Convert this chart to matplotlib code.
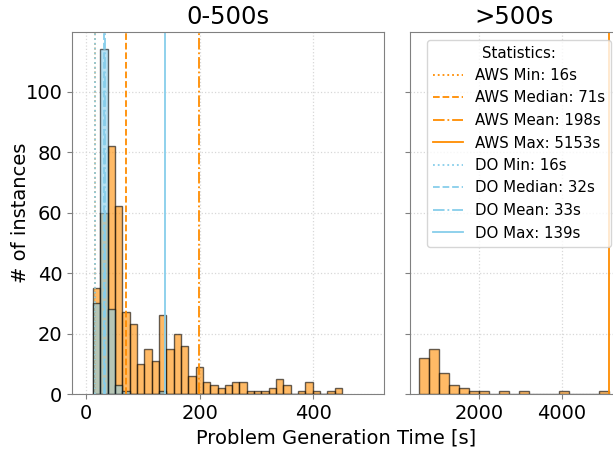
import numpy as np
import matplotlib
matplotlib.use("Agg")
import matplotlib.pyplot as plt

# histogram counts
# left panel: 34 shared bins between ~12s and ~451s
low_edges = np.linspace(12, 451, 35)
aws_low = [35, 60, 82, 62, 27, 23, 10, 15, 11, 26, 15, 20, 16, 6, 9, 4, 3,
           2, 3, 4, 4, 1, 1, 1, 2, 5, 3, 0, 1, 4, 1, 0, 1, 2]
do_low = [30, 114, 28, 3, 1, 0, 0, 0, 0, 1, 0, 0, 0, 0, 0, 0, 0,
          0, 0, 0, 0, 0, 0, 0, 0, 0, 0, 0, 0, 0, 0, 0, 0, 0]
# right panel: 19 bins between ~544s and 5153s
high_edges = np.linspace(544, 5153, 20)
aws_high = [12, 15, 7, 3, 2, 1, 1, 0, 1, 0, 1, 0, 0, 0, 1, 0, 0, 0, 1]

stat_names = ["Min", "Median", "Mean", "Max"]
stat_styles = [":", "--", "-.", "-"]
aws_stats = [16, 71, 198, 5153]
do_stats = [16, 32, 33, 139]

aws_color = "darkorange"
do_color = "skyblue"

plt.rcParams["font.size"] = 14
plt.rcParams["axes.edgecolor"] = "#808080"
plt.rcParams["xtick.color"] = "#808080"
plt.rcParams["ytick.color"] = "#808080"
plt.rcParams["xtick.labelcolor"] = "black"
plt.rcParams["ytick.labelcolor"] = "black"

fig = plt.figure(figsize=(6.13, 4.5), dpi=100)
ax1 = fig.add_axes([72 / 613, 56 / 450, 312 / 613, 362 / 450])
ax2 = fig.add_axes([409.8 / 613, 56 / 450, 209 / 613, 362 / 450], sharey=ax1)


def draw_hist(ax, edges, counts, color):
    centers = (edges[:-1] + edges[1:]) / 2
    ax.hist(centers, bins=edges, weights=counts, color=color, alpha=0.6,
            edgecolor="black", linewidth=1)


draw_hist(ax1, low_edges, aws_low, aws_color)
draw_hist(ax1, low_edges, do_low, do_color)
draw_hist(ax2, high_edges, aws_high, aws_color)

for ax in (ax1, ax2):
    for name, ls, v in zip(stat_names, stat_styles, aws_stats):
        ax.axvline(v, color=aws_color, linestyle=ls, linewidth=1.3,
                   label=f"AWS {name}: {v}s")
    for name, ls, v in zip(stat_names, stat_styles, do_stats):
        ax.axvline(v, color=do_color, linestyle=ls, linewidth=1.3,
                   label=f"DO {name}: {v}s")
    ax.grid(True, linestyle=":", color="#d8d8d8", linewidth=0.9)
    ax.set_axisbelow(True)

ax1.set_xlim(-25, 525)
ax2.set_xlim(314, 5383)
ax1.set_ylim(0, 119.7)
ax1.set_xticks([0, 200, 400])
ax2.set_xticks([2000, 4000])
ax2.tick_params(labelleft=False)

ax1.set_title("0-500s", fontsize=17.5)
ax2.set_title(">500s", fontsize=17.5)
ax1.set_ylabel("# of instances")
ax1.yaxis.set_label_coords(-0.135, 0.5)
fig.text(0.548, 0.027, "Problem Generation Time [s]", ha="center", va="center")

ax2.legend(title="Statistics:", loc="upper right", fontsize=10.8,
           title_fontsize=10.8, framealpha=0.8)

fig.savefig("out.png", dpi=100)
